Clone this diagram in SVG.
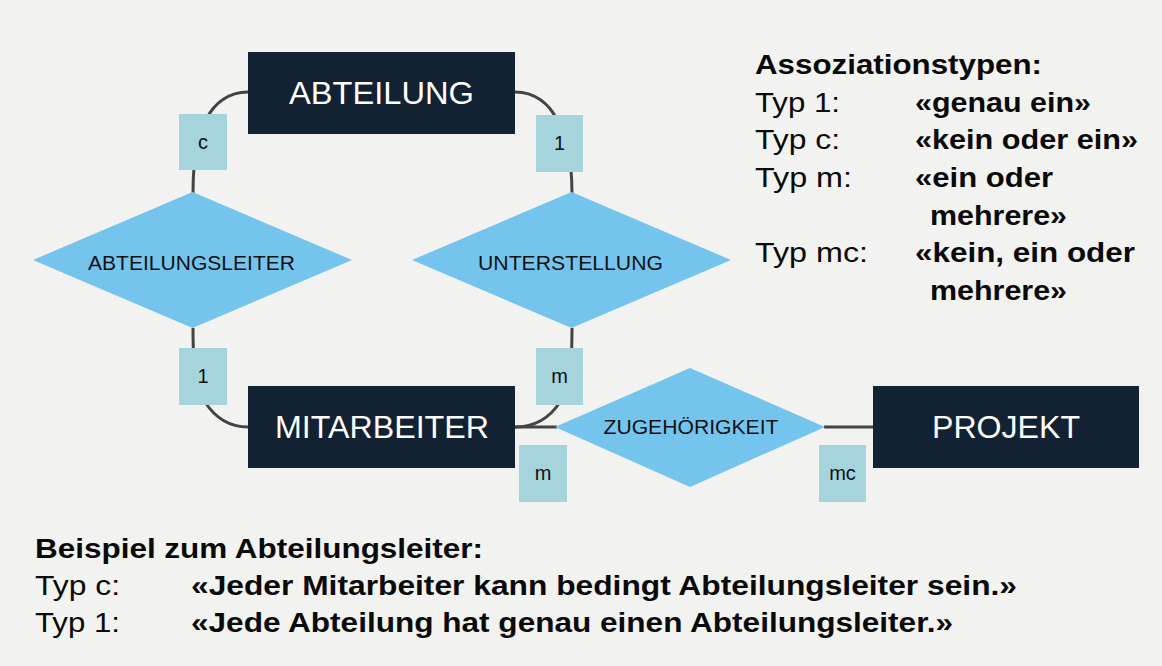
<svg xmlns="http://www.w3.org/2000/svg" width="1162" height="666" viewBox="0 0 1162 666">
<style>
  .ent { fill: #132233; }
  .entt { fill: #ffffff; font-family: "Liberation Sans", Arial, sans-serif; font-size: 31px; text-anchor: middle; }
  .rel { fill: #74c4ee; }
  .relt { fill: #111111; font-family: "Liberation Sans", Arial, sans-serif; font-size: 20.5px; text-anchor: middle; }
  .card { fill: #a5d4dc; }
  .cardt { fill: #111111; font-family: "Liberation Sans", Arial, sans-serif; font-size: 20px; text-anchor: middle; }
  .conn { fill: none; stroke: #444444; stroke-width: 3; }
  .txt { fill: #0a0a0a; font-family: "Liberation Sans", Arial, sans-serif; font-size: 28.5px; }
  .b { font-weight: bold; }
</style>
<rect x="0" y="0" width="1162" height="666" fill="#f2f2f0"/>

<g id="connectors">
  <path class="conn" d="M248,92 C228,92 214,104 207,118 C200,132 193,150 193,193"/>
  <path class="conn" d="M515,92 C535,92 549,104 556,118 C563,132 572,150 572,193"/>
  <path class="conn" d="M193,328 C193,380 198,392 205,402 C214,416 228,427 248,427"/>
  <path class="conn" d="M572,328 C572,380 567,392 560,402 C551,416 537,427 515,427"/>
  <path class="conn" d="M515,427 L557,427"/>
  <path class="conn" d="M824,427 L873,427"/>
</g>

<g id="node-abteilung">
  <rect class="ent" x="248" y="52" width="267" height="82"/>
  <text class="entt" x="381.5" y="104" textLength="185" lengthAdjust="spacingAndGlyphs">ABTEILUNG</text>
</g>
<g id="node-mitarbeiter">
  <rect class="ent" x="248" y="386" width="267" height="82"/>
  <text class="entt" x="382" y="438" textLength="214" lengthAdjust="spacingAndGlyphs">MITARBEITER</text>
</g>
<g id="node-projekt">
  <rect class="ent" x="873" y="386" width="266" height="82"/>
  <text class="entt" x="1006" y="438" textLength="148" lengthAdjust="spacingAndGlyphs">PROJEKT</text>
</g>

<g id="node-abteilungsleiter">
  <polygon class="rel" points="33,260 192.5,192 352,260 192.5,328"/>
  <text class="relt" x="191.5" y="270" textLength="207" lengthAdjust="spacingAndGlyphs">ABTEILUNGSLEITER</text>
</g>
<g id="node-unterstellung">
  <polygon class="rel" points="412,260 571.5,192 731,260 571.5,328"/>
  <text class="relt" x="570.5" y="270" textLength="185" lengthAdjust="spacingAndGlyphs">UNTERSTELLUNG</text>
</g>
<g id="node-zugehoerigkeit">
  <polygon class="rel" points="555,427 690,368 825,427 690,487"/>
  <text class="relt" x="691" y="434" textLength="175" lengthAdjust="spacingAndGlyphs">ZUGEHÖRIGKEIT</text>
</g>

<g id="card-c">
  <rect class="card" x="179" y="114" width="48" height="56"/>
  <text class="cardt" x="203" y="149">c</text>
</g>
<g id="card-1-top">
  <rect class="card" x="536" y="115" width="47" height="57"/>
  <text class="cardt" x="559.5" y="150">1</text>
</g>
<g id="card-1-bottom">
  <rect class="card" x="179" y="348" width="48" height="57"/>
  <text class="cardt" x="203" y="383">1</text>
</g>
<g id="card-m-top">
  <rect class="card" x="536" y="348" width="47" height="57"/>
  <text class="cardt" x="559.5" y="383">m</text>
</g>
<g id="card-m-bottom">
  <rect class="card" x="519" y="445" width="48" height="57"/>
  <text class="cardt" x="543" y="480">m</text>
</g>
<g id="card-mc">
  <rect class="card" x="819" y="445" width="47" height="57"/>
  <text class="cardt" x="842.5" y="480">mc</text>
</g>

<g id="legend">
  <text class="txt b" x="755" y="74" textLength="287" lengthAdjust="spacingAndGlyphs">Assoziationstypen:</text>
  <text class="txt" x="755" y="112" textLength="85" lengthAdjust="spacingAndGlyphs">Typ 1:</text>
  <text class="txt b" x="915" y="112" textLength="176" lengthAdjust="spacingAndGlyphs">«genau ein»</text>
  <text class="txt" x="755" y="149" textLength="85" lengthAdjust="spacingAndGlyphs">Typ c:</text>
  <text class="txt b" x="915" y="149" textLength="223" lengthAdjust="spacingAndGlyphs">«kein oder ein»</text>
  <text class="txt" x="755" y="187" textLength="97" lengthAdjust="spacingAndGlyphs">Typ m:</text>
  <text class="txt b" x="915" y="187" textLength="138" lengthAdjust="spacingAndGlyphs">«ein oder</text>
  <text class="txt b" x="930" y="225" textLength="137" lengthAdjust="spacingAndGlyphs">mehrere»</text>
  <text class="txt" x="755" y="262" textLength="113" lengthAdjust="spacingAndGlyphs">Typ mc:</text>
  <text class="txt b" x="915" y="262" textLength="220" lengthAdjust="spacingAndGlyphs">«kein, ein oder</text>
  <text class="txt b" x="930" y="300" textLength="137" lengthAdjust="spacingAndGlyphs">mehrere»</text>
</g>

<g id="example">
  <text class="txt b" x="35" y="558" textLength="448" lengthAdjust="spacingAndGlyphs">Beispiel zum Abteilungsleiter:</text>
  <text class="txt" x="35" y="595" textLength="85" lengthAdjust="spacingAndGlyphs">Typ c:</text>
  <text class="txt b" x="191" y="595" textLength="826" lengthAdjust="spacingAndGlyphs">«Jeder Mitarbeiter kann bedingt Abteilungsleiter sein.»</text>
  <text class="txt" x="35" y="632" textLength="85" lengthAdjust="spacingAndGlyphs">Typ 1:</text>
  <text class="txt b" x="191" y="632" textLength="762" lengthAdjust="spacingAndGlyphs">«Jede Abteilung hat genau einen Abteilungsleiter.»</text>
</g>
</svg>
